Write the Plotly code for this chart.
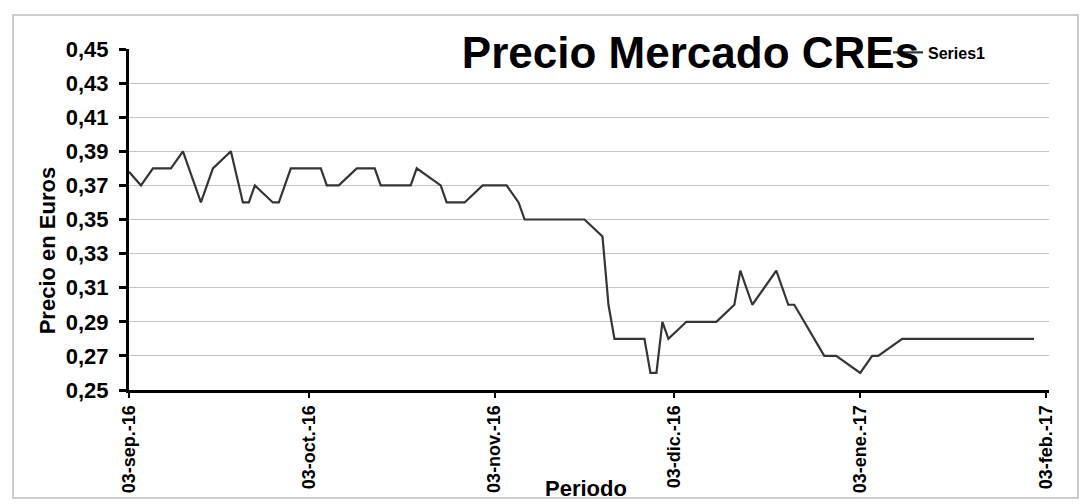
import plotly.graph_objects as go

# Daily market price of CREs (EUR) at each change point of the series
fechas = [
    "2016-09-03", "2016-09-05", "2016-09-07", "2016-09-10", "2016-09-12",
    "2016-09-15", "2016-09-17", "2016-09-20", "2016-09-22", "2016-09-23",
    "2016-09-24", "2016-09-27", "2016-09-28", "2016-09-30", "2016-10-05",
    "2016-10-06", "2016-10-08", "2016-10-11", "2016-10-14", "2016-10-15",
    "2016-10-20", "2016-10-21", "2016-10-25", "2016-10-26", "2016-10-29",
    "2016-11-01", "2016-11-05", "2016-11-07", "2016-11-08", "2016-11-18",
    "2016-11-21", "2016-11-22", "2016-11-23", "2016-11-28", "2016-11-29",
    "2016-11-30", "2016-12-01", "2016-12-02", "2016-12-05", "2016-12-10",
    "2016-12-13", "2016-12-14", "2016-12-16", "2016-12-20", "2016-12-22",
    "2016-12-23", "2016-12-28", "2016-12-30", "2017-01-03", "2017-01-05",
    "2017-01-06", "2017-01-10", "2017-02-01",
]
precios = [
    0.378, 0.37, 0.38, 0.38, 0.39,
    0.36, 0.38, 0.39, 0.36, 0.36,
    0.37, 0.36, 0.36, 0.38, 0.38,
    0.37, 0.37, 0.38, 0.38, 0.37,
    0.37, 0.38, 0.37, 0.36, 0.36,
    0.37, 0.37, 0.36, 0.35, 0.35,
    0.34, 0.30, 0.28, 0.28, 0.26,
    0.26, 0.29, 0.28, 0.29, 0.29,
    0.30, 0.32, 0.30, 0.32, 0.30,
    0.30, 0.27, 0.27, 0.26, 0.27,
    0.27, 0.28, 0.28,
]

tick_fechas = ["2016-09-03", "2016-10-03", "2016-11-03",
               "2016-12-03", "2017-01-03", "2017-02-03"]
tick_textos = ["03-sep.-16", "03-oct.-16", "03-nov.-16",
               "03-dic.-16", "03-ene.-17", "03-feb.-17"]

FONT = "Liberation Sans, Arial, sans-serif"

fig = go.Figure()
fig.add_trace(go.Scatter(
    x=fechas, y=precios, mode="lines", name="Series1",
    line=dict(color="#353535", width=2.2),
    showlegend=True,
))

fig.update_layout(
    width=1084, height=504,
    margin=dict(l=129, r=35, t=49, b=114),
    paper_bgcolor="white", plot_bgcolor="white",
    separators=",.",
    font=dict(family=FONT, color="black"),
    title=dict(
        text="Precio Mercado CREs",
        font=dict(family=FONT, size=44, weight="bold", color="black"),
        x=0.637, xanchor="center", y=0.895, yanchor="middle",
    ),
    legend=dict(
        x=0.825, xanchor="left", y=0.99, yanchor="middle",
        bgcolor="rgba(0,0,0,0)", borderwidth=0,
        font=dict(family=FONT, size=16, weight="bold", color="black"),
        itemwidth=30,
    ),
    xaxis=dict(
        type="date",
        range=["2016-09-03", "2017-02-03 12:00"],
        tickvals=tick_fechas, ticktext=tick_textos,
        tickangle=-90,
        tickfont=dict(family=FONT, size=18, weight="bold", color="black"),
        ticks="outside", ticklen=5, tickwidth=2, tickcolor="black",
        showline=True, linecolor="black", linewidth=3,
        showgrid=False, zeroline=False,
    ),
    yaxis=dict(
        range=[0.25, 0.45], dtick=0.02, tick0=0.25,
        tickformat=".2f",
        tickfont=dict(family=FONT, size=22, weight="bold", color="black"),
        ticks="outside", ticklen=7, tickwidth=3, tickcolor="black",
        ticklabelstandoff=6,
        showline=True, linecolor="black", linewidth=3,
        showgrid=True, gridcolor="#c4c4c4", gridwidth=1,
        zeroline=False,
    ),
    annotations=[
        dict(text="Precio en Euros", textangle=-90,
             xref="paper", yref="paper", x=-0.089, y=0.41,
             xanchor="center", yanchor="middle", showarrow=False,
             font=dict(family=FONT, size=22, weight="bold", color="black")),
        dict(text="Periodo",
             xref="paper", yref="paper", x=0.497, y=-0.29,
             xanchor="center", yanchor="middle", showarrow=False,
             font=dict(family=FONT, size=22, weight="bold", color="black")),
    ],
    shapes=[
        # light frame around the chart area
        dict(type="rect", xref="paper", yref="paper",
             x0=-0.126, x1=1.0315, y0=-0.317, y1=1.10,
             line=dict(color="#bdbdbd", width=1.5), layer="below"),
    ],
)

fig.write_html("out.html")
